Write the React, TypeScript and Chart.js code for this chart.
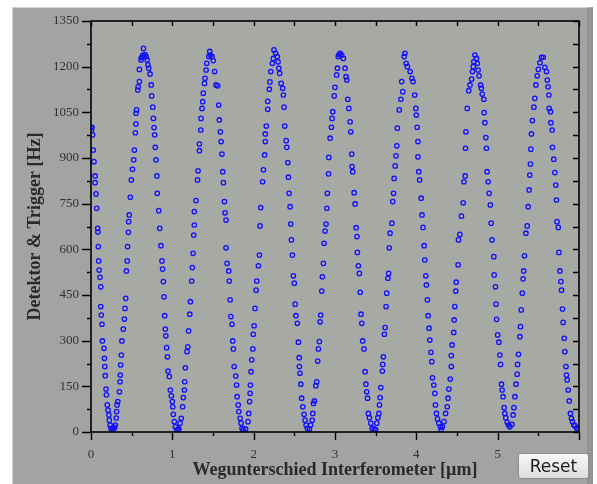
import React, { useEffect, useRef } from "react";
import { Chart, registerables } from "chart.js";

Chart.register(...registerables);

// ---- data (x in µm, y in Hz) ----
const FALL_1: number[][] = [[0.0,1000],[0.006,990],[0.012,1001],[0.02,976],[0.028,926],[0.037,888],[0.05,841],[0.05,819],[0.062,782],[0.07,735],[0.082,669],[0.085,657],[0.09,609],[0.095,562],[0.10,532],[0.11,508],[0.12,477],[0.12,412],[0.127,384],[0.135,354],[0.14,299],[0.16,275],[0.165,242],[0.17,215],[0.175,185],[0.185,141],[0.19,122],[0.20,89],[0.21,72],[0.22,56],[0.225,39],[0.235,23],[0.245,12],[0.26,7],[0.275,10]];
const RISE_1: number[][] = [[0.29,15],[0.30,23],[0.31,46],[0.315,67],[0.32,89],[0.33,100],[0.35,132],[0.357,165],[0.36,187],[0.365,220],[0.373,253],[0.38,299],[0.397,338],[0.41,371],[0.418,406],[0.427,439],[0.435,529],[0.445,562],[0.45,609],[0.46,656],[0.463,691],[0.47,713],[0.483,771],[0.496,828],[0.51,863],[0.525,894],[0.533,926],[0.545,983],[0.553,1012],[0.553,1047],[0.56,1058],[0.575,1123],[0.58,1134],[0.595,1151],[0.595,1191],[0.615,1222],[0.62,1230],[0.635,1235],[0.645,1260],[0.64,1238]];
const FALL_2: number[][] = [[0.665,1240],[0.677,1233],[0.69,1222],[0.70,1206],[0.71,1195],[0.726,1176],[0.74,1140],[0.746,1104],[0.76,1067],[0.767,1030],[0.775,1000],[0.783,976],[0.79,935],[0.80,894],[0.81,841],[0.815,784],[0.833,727],[0.845,669],[0.86,612],[0.873,562],[0.88,535],[0.89,494],[0.898,444],[0.906,382],[0.914,338],[0.92,316],[0.93,277],[0.94,247],[0.947,200],[0.963,182],[0.975,138],[0.988,119],[1.0,100],[1.005,83],[1.012,58],[1.025,34],[1.037,17],[1.054,7]];
const RISE_2: number[][] = [[1.07,8],[1.08,10],[1.095,29],[1.11,45],[1.127,83],[1.135,113],[1.148,138],[1.152,165],[1.16,211],[1.18,264],[1.19,280],[1.2,332],[1.215,387],[1.222,428],[1.238,496],[1.246,540],[1.255,587],[1.263,647],[1.27,680],[1.27,724],[1.29,760],[1.31,828],[1.316,858],[1.333,924],[1.333,946],[1.35,992],[1.353,1030],[1.365,1063],[1.373,1085],[1.38,1113],[1.395,1145],[1.402,1162],[1.415,1189],[1.423,1211],[1.448,1233],[1.467,1238],[1.46,1250]];
const FALL_3: number[][] = [[1.488,1233],[1.504,1220],[1.52,1184],[1.537,1140],[1.558,1137],[1.57,1074],[1.578,1025],[1.59,986],[1.6,954],[1.61,913],[1.62,855],[1.628,819],[1.64,757],[1.648,720],[1.66,696],[1.66,605],[1.673,554],[1.694,529],[1.70,496],[1.71,434],[1.72,379],[1.734,354],[1.743,299],[1.75,273],[1.76,215],[1.78,184],[1.79,154],[1.797,116],[1.81,89],[1.817,67],[1.833,45],[1.845,29],[1.857,12],[1.873,7]];
const RISE_3: number[][] = [[1.90,10],[1.93,34],[1.94,61],[1.95,100],[1.956,127],[1.96,154],[1.968,198],[1.976,237],[1.99,273],[1.996,321],[2.005,349],[2.017,406],[2.03,466],[2.038,496],[2.058,546],[2.07,581],[2.078,677],[2.087,737],[2.11,822],[2.12,861],[2.135,910],[2.143,954],[2.143,979],[2.155,1005],[2.173,1060],[2.173,1086],[2.193,1126],[2.2,1150],[2.21,1184],[2.23,1211],[2.242,1227],[2.25,1255],[2.27,1244]];
const FALL_4: number[][] = [[2.29,1233],[2.30,1216],[2.31,1195],[2.32,1178],[2.337,1145],[2.357,1129],[2.365,1107],[2.374,1067],[2.382,1005],[2.4,957],[2.407,935],[2.42,885],[2.427,837],[2.435,784],[2.448,740],[2.456,683],[2.464,631],[2.476,581],[2.488,513],[2.5,489],[2.51,420],[2.52,382],[2.537,357],[2.55,295],[2.56,244],[2.562,215],[2.57,193],[2.58,157],[2.59,111],[2.604,83],[2.62,58],[2.632,39],[2.645,23],[2.66,12],[2.685,10]];
const RISE_4: number[][] = [[2.70,23],[2.72,39],[2.727,61],[2.735,94],[2.747,102],[2.764,152],[2.776,165],[2.788,233],[2.796,273],[2.808,297],[2.817,362],[2.825,384],[2.837,463],[2.845,510],[2.857,554],[2.866,620],[2.878,660],[2.89,683],[2.9,735],[2.906,784],[2.92,848],[2.924,902],[2.94,965],[2.956,1001],[2.964,1030],[2.973,1052],[2.99,1104],[3.0,1132],[3.02,1173],[3.03,1195],[3.04,1233],[3.05,1240],[3.063,1244],[3.083,1238]];
const FALL_5: number[][] = [[3.103,1227],[3.124,1195],[3.136,1167],[3.145,1156],[3.157,1093],[3.17,1063],[3.186,1019],[3.194,986],[3.206,913],[3.21,872],[3.218,855],[3.235,786],[3.247,749],[3.26,671],[3.27,642],[3.275,590],[3.287,546],[3.3,521],[3.31,459],[3.32,387],[3.33,357],[3.34,299],[3.357,273],[3.37,198],[3.38,157],[3.39,132],[3.4,111],[3.41,61],[3.423,47],[3.44,29],[3.456,12],[3.48,10]];
const RISE_5: number[][] = [[3.50,8],[3.514,29],[3.527,47],[3.54,61],[3.546,89],[3.555,113],[3.563,146],[3.583,200],[3.587,222],[3.595,247],[3.607,321],[3.616,343],[3.628,412],[3.636,456],[3.65,505],[3.66,521],[3.667,605],[3.677,653],[3.70,686],[3.71,757],[3.72,784],[3.727,833],[3.74,874],[3.75,907],[3.76,940],[3.767,998],[3.79,1058],[3.81,1093],[3.82,1151],[3.833,1118],[3.85,1233],[3.86,1244],[3.874,1211],[3.89,1200]];
const FALL_6: number[][] = [[3.924,1184],[3.945,1162],[3.96,1151],[3.98,1107],[3.994,1063],[4.0,1041],[4.01,1001],[4.02,954],[4.02,904],[4.03,855],[4.04,828],[4.06,768],[4.07,713],[4.083,672],[4.096,612],[4.104,565],[4.117,513],[4.124,483],[4.136,434],[4.145,382],[4.157,341],[4.166,302],[4.18,262],[4.19,231],[4.198,178],[4.215,154],[4.227,127],[4.235,89],[4.247,61],[4.26,43],[4.277,29],[4.296,17],[4.305,8]];
const RISE_6: number[][] = [[4.32,17],[4.34,34],[4.36,61],[4.38,83],[4.39,111],[4.40,141],[4.417,174],[4.43,215],[4.43,251],[4.44,286],[4.46,327],[4.465,368],[4.473,412],[4.485,463],[4.49,492],[4.514,549],[4.518,631],[4.535,649],[4.555,709],[4.576,753],[4.585,822],[4.6,841],[4.605,932],[4.61,986],[4.626,1063],[4.645,1121],[4.66,1140],[4.68,1159],[4.69,1184],[4.70,1200],[4.707,1216],[4.72,1238]];
const FALL_7: number[][] = [[4.74,1227],[4.75,1211],[4.76,1189],[4.772,1170],[4.79,1140],[4.80,1129],[4.81,1110],[4.83,1093],[4.834,1049],[4.843,1016],[4.855,967],[4.862,932],[4.87,855],[4.883,822],[4.895,784],[4.91,746],[4.92,686],[4.93,631],[4.953,576],[4.957,516],[4.973,477],[4.98,420],[4.986,370],[5.0,319],[5.015,295],[5.027,253],[5.035,222],[5.047,157],[5.055,138],[5.067,116],[5.08,80],[5.088,61],[5.1,47],[5.117,32],[5.133,23],[5.15,17]];
const RISE_7: number[][] = [[5.175,25],[5.19,56],[5.2,80],[5.212,116],[5.225,157],[5.24,190],[5.245,222],[5.256,255],[5.273,313],[5.28,346],[5.29,401],[5.303,456],[5.313,503],[5.32,529],[5.33,579],[5.347,653],[5.363,677],[5.375,740],[5.387,795],[5.395,844],[5.403,880],[5.408,929],[5.415,979],[5.427,1023],[5.445,1067],[5.457,1096],[5.47,1140],[5.486,1170],[5.5,1191],[5.52,1213],[5.54,1231]];
const FALL_8: number[][] = [[5.56,1231],[5.58,1198],[5.6,1184],[5.61,1156],[5.62,1134],[5.63,1107],[5.633,1063],[5.65,1052],[5.654,1016],[5.67,992],[5.674,935],[5.69,896],[5.703,852],[5.715,811],[5.723,762],[5.73,691],[5.745,672],[5.753,590],[5.765,529],[5.777,494],[5.785,466],[5.797,404],[5.805,360],[5.818,308],[5.826,264],[5.84,215],[5.846,187],[5.855,171],[5.867,138],[5.88,102],[5.895,61],[5.907,45],[5.92,34],[5.937,23],[5.95,21],[5.97,12],[5.99,8]];

const X_TICK_LABELS = ["0", "1", "2", "3", "4", "5", ""];
const Y_TICK_LABELS = ["0", "150", "300", "450", "600", "750", "900", "1050", "1200", "1350"];
const X_MAJOR = [0, 1, 2, 3, 4, 5, 6];
const X_MINOR = [0.5, 1.5, 2.5, 3.5, 4.5, 5.5];
const Y_MAJOR = [0, 150, 300, 450, 600, 750, 900, 1050, 1200, 1350];
const Y_MINOR = [75, 225, 375, 525, 675, 825, 975, 1125, 1275];

const X_TITLE = "Wegunterschied Interferometer [µm]";
const Y_TITLE = "Detektor & Trigger [Hz]";

const PLOT_BG = "#a7a9a4";
const PANEL_BG = "#a3a4a1";

const framePlugin = {
  id: "frame",
  beforeDatasetsDraw(chart: any) {
    const { ctx, chartArea: a } = chart;
    ctx.save();
    ctx.fillStyle = PLOT_BG;
    ctx.fillRect(a.left, a.top, a.right - a.left, a.bottom - a.top);
    ctx.restore();
  },
  afterDraw(chart: any) {
    const { ctx, chartArea: a, scales } = chart;
    const xs = scales.x, ys = scales.y;
    ctx.save();
    ctx.strokeStyle = "#000";
    ctx.lineWidth = 1.6;
    ctx.strokeRect(a.left, a.top, a.right - a.left, a.bottom - a.top);
    ctx.lineWidth = 1.4;
    ctx.beginPath();
    const xt = (v: number, lenB: number) => {
      const p = Math.round(xs.getPixelForValue(v)) + 0.5;
      ctx.moveTo(p, a.bottom); ctx.lineTo(p, a.bottom + lenB);
      ctx.moveTo(p, a.top); ctx.lineTo(p, a.top + 5);
    };
    X_MAJOR.forEach((v) => xt(v, 8));
    X_MINOR.forEach((v) => xt(v, 4));
    const yt = (v: number, lenL: number) => {
      const p = Math.round(ys.getPixelForValue(v)) + 0.5;
      ctx.moveTo(a.left, p); ctx.lineTo(a.left - lenL, p);
      ctx.moveTo(a.right, p); ctx.lineTo(a.right - 6, p);
    };
    Y_MAJOR.forEach((v) => yt(v, 9));
    Y_MINOR.forEach((v) => yt(v, 4));
    ctx.stroke();
    ctx.restore();
  },
};

export default function App() {
  const ref = useRef<HTMLCanvasElement | null>(null);

  useEffect(() => {
    if (!ref.current) return;
    const all = [FALL_1, RISE_1, FALL_2, RISE_2, FALL_3, RISE_3, FALL_4, RISE_4, FALL_5, RISE_5, FALL_6, RISE_6, FALL_7, RISE_7, FALL_8]
      .flat()
      .map(([x, y]) => ({ x, y }));
    const tickFont = { family: "'Liberation Serif', serif", size: 13 };
    const titleFont = { family: "'Liberation Serif', serif", size: 18, weight: "bold" as const, lineHeight: 1.2 };
    const chart = new Chart(ref.current, {
      type: "scatter",
      data: {
        datasets: [
          {
            data: all,
            pointStyle: "circle",
            pointRadius: 2.2,
            pointBorderWidth: 1.3,
            borderColor: "#1010ff",
            backgroundColor: "rgba(0,0,0,0)",
          },
        ],
      },
      options: {
        animation: false,
        responsive: false,
        devicePixelRatio: 1,
        layout: { padding: { left: 0, top: 21, right: 18, bottom: 0 } },
        plugins: { legend: { display: false }, tooltip: { enabled: false } },
        scales: {
          x: {
            type: "linear",
            min: 0,
            max: 6,
            border: { display: false },
            grid: { display: false, drawTicks: false },
            ticks: {
              stepSize: 1,
              padding: 15,
              color: "#333",
              font: tickFont,
              callback: (_v: any, i: number) => X_TICK_LABELS[i] ?? "",
            },
            title: { display: true, text: X_TITLE, color: "#2a2a2a", font: titleFont, padding: { top: 0, bottom: 3 } },
            afterFit: (s: any) => { s.height = 52; },
          },
          y: {
            type: "linear",
            min: 0,
            max: 1350,
            border: { display: false },
            grid: { display: false, drawTicks: false },
            ticks: {
              stepSize: 150,
              padding: 12,
              color: "#333",
              font: tickFont,
              callback: (_v: any, i: number) => Y_TICK_LABELS[i] ?? "",
            },
            title: { display: true, text: Y_TITLE, color: "#2a2a2a", font: titleFont, padding: { top: 25, bottom: 0 } },
            afterFit: (s: any) => { s.width = 91; },
          },
        },
      },
      plugins: [framePlugin],
    });
    return () => chart.destroy();
  }, []);

  return (
    <div style={{ position: "fixed", left: 0, top: 0, width: 597, height: 484, background: "#fff", overflow: "hidden" }}>
      <div
        style={{
          position: "absolute",
          left: 12,
          top: 7,
          width: 574,
          height: 480,
          background: PANEL_BG,
          borderTop: "1px solid #d4d4d2",
          borderLeft: "1px solid #d0d0ce",
          borderRight: "6px solid #939391",
        }}
      />
      <canvas ref={ref} width={597} height={484} style={{ position: "absolute", left: 0, top: 0, width: 597, height: 484 }} />
      <button
        style={{
          position: "absolute",
          left: 518,
          top: 453,
          width: 71,
          height: 26,
          padding: 0,
          border: "1px solid #8e8e8e",
          borderRadius: 3,
          background: "linear-gradient(#f8f8f8, #dcdcdc)",
          fontFamily: "'DejaVu Sans', sans-serif",
          fontSize: 17,
          color: "#1a1a1a",
        }}
      >
        Reset
      </button>
    </div>
  );
}
